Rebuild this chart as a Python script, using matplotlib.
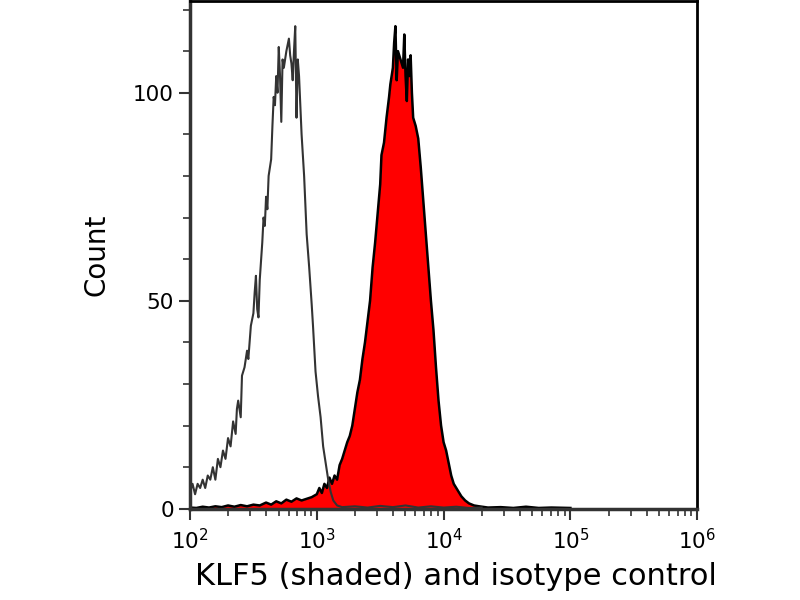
import numpy as np
import matplotlib
matplotlib.use('Agg')
import matplotlib.pyplot as plt
from matplotlib.ticker import LogLocator, MultipleLocator, FixedLocator

# log10 of fluorescence and counts
iso_log = [2.00, 2.02, 2.04, 2.06, 2.08, 2.10, 2.12, 2.14, 2.16, 2.18, 2.20, 2.22, 2.24,
           2.26, 2.28, 2.30, 2.32, 2.34, 2.36, 2.37, 2.38, 2.40, 2.41, 2.43, 2.45, 2.46,
           2.48, 2.50, 2.51, 2.52, 2.53, 2.54, 2.55, 2.57, 2.58, 2.59, 2.60, 2.61, 2.62,
           2.64, 2.65, 2.66, 2.67, 2.68, 2.69, 2.70, 2.71, 2.72, 2.73, 2.74, 2.76, 2.78,
           2.79, 2.80, 2.81, 2.82, 2.83, 2.84, 2.85, 2.86, 2.88, 2.90, 2.92, 2.94, 2.96,
           2.97, 2.99, 3.01, 3.03, 3.05, 3.07, 3.09, 3.11, 3.13, 3.16, 3.20, 3.30, 3.40,
           3.50, 3.60, 3.70, 3.80, 3.90, 4.00, 4.10, 4.20, 4.30]
iso_count = [4, 6, 3.5, 6, 5, 7, 5, 8, 7, 10, 7, 12, 10,
             14, 12, 17, 15, 21, 18, 24, 26, 22, 32, 34, 38, 36,
             44, 47, 52, 56, 48, 46, 55, 64, 70, 68, 75, 72, 80,
             84, 92, 99, 97, 104, 100, 111, 104, 93, 108, 106, 110, 113,
             109, 107, 103, 110, 116, 94, 108, 104, 90, 80, 66, 58, 49,
             44, 33, 27, 22, 15, 11, 7, 4, 2, 0.8, 0.4, 0.6, 0.3,
             0.7, 0.4, 0.8, 0.3, 0.6, 0.3, 0.5, 0.2, 0.3]

klf5_log = [2.00, 2.05, 2.10, 2.15, 2.20, 2.25, 2.30, 2.35, 2.40, 2.45, 2.50, 2.55, 2.60,
            2.64, 2.68, 2.72, 2.76, 2.80, 2.84, 2.88, 2.92, 2.96, 3.00, 3.02, 3.04, 3.06,
            3.08, 3.10, 3.12, 3.14, 3.16, 3.18, 3.20, 3.22, 3.24, 3.26, 3.28, 3.30, 3.32,
            3.34, 3.36, 3.38, 3.40, 3.42, 3.44, 3.46, 3.48, 3.50, 3.51, 3.53, 3.55, 3.57,
            3.58, 3.60, 3.61, 3.62, 3.63, 3.64, 3.66, 3.68, 3.69, 3.70, 3.71, 3.72, 3.73,
            3.74, 3.75, 3.76, 3.78, 3.80, 3.82, 3.84, 3.86, 3.88, 3.90, 3.92, 3.94, 3.96,
            3.98, 4.00, 4.02, 4.04, 4.06, 4.08, 4.10, 4.12, 4.14, 4.17, 4.20, 4.24, 4.28,
            4.35, 4.45, 4.55, 4.65, 4.75, 4.85, 5.00]
klf5_count = [0.3, 0.2, 0.5, 0.3, 0.6, 0.4, 0.8, 0.5, 0.9, 0.6, 1.0, 0.8, 1.5,
              1.0, 1.8, 1.3, 2.2, 1.7, 2.5, 2.0, 2.4, 2.8, 3.5, 5.0, 3.8, 6.0,
              5.0, 7.5, 6.0, 8.0, 7.0, 10.5, 12, 14, 16, 17.5, 20, 24, 28,
              31, 36, 40, 45, 50, 58, 64, 71, 78, 85, 88, 94, 99,
              102, 106, 112, 116, 103, 110, 108, 106, 114, 104, 98, 108, 104,
              109, 100, 94, 92, 89, 82, 74, 66, 58, 50, 43, 34, 26,
              20, 16, 14, 11, 8, 6, 5, 4, 3, 2, 1.3, 0.8, 0.6,
              0.3, 0.4, 0.2, 0.5, 0.2, 0.3, 0.2]

x_label = 'KLF5 (shaded) and isotype control'
y_label = 'Count'

plt.rcParams['font.family'] = ['DejaVu Sans']

fig = plt.figure(figsize=(8, 6), dpi=100)
ax = fig.add_axes([0.2375, 0.152, 0.634, 0.846])

kx = np.power(10.0, klf5_log)
ix = np.power(10.0, iso_log)

ax.fill_between(kx, 0, klf5_count, color='#ff0000', linewidth=0)
ax.plot(kx, klf5_count, color='black', linewidth=1.8)
ax.plot(ix, iso_count, color='#333333', linewidth=1.5)

ax.set_xscale('log')
ax.set_xlim(1e2, 1e6)
ax.set_ylim(0, 122)

ax.xaxis.set_major_locator(LogLocator(base=10))
ax.xaxis.set_minor_locator(LogLocator(base=10, subs=np.arange(2, 10)))
ax.yaxis.set_major_locator(FixedLocator([0, 50, 100]))
ax.yaxis.set_minor_locator(MultipleLocator(10))

ax.tick_params(axis='both', which='major', direction='out', length=8, width=1.5,
               labelsize=15.5, colors='#333333', labelcolor='black')
ax.tick_params(axis='both', which='minor', direction='out', length=5, width=1.2,
               colors='#333333')
ax.tick_params(axis='x', pad=6)

for side in ['top', 'right']:
    ax.spines[side].set_linewidth(2)
    ax.spines[side].set_color('black')
for side in ['left', 'bottom']:
    ax.spines[side].set_linewidth(2.5)
    ax.spines[side].set_color('#333333')

ax.set_xlabel(x_label, fontsize=22)
ax.xaxis.set_label_coords(0.524, -0.105)
ax.set_ylabel(y_label, fontsize=20, labelpad=16)

fig.savefig('out.png', dpi=100)
